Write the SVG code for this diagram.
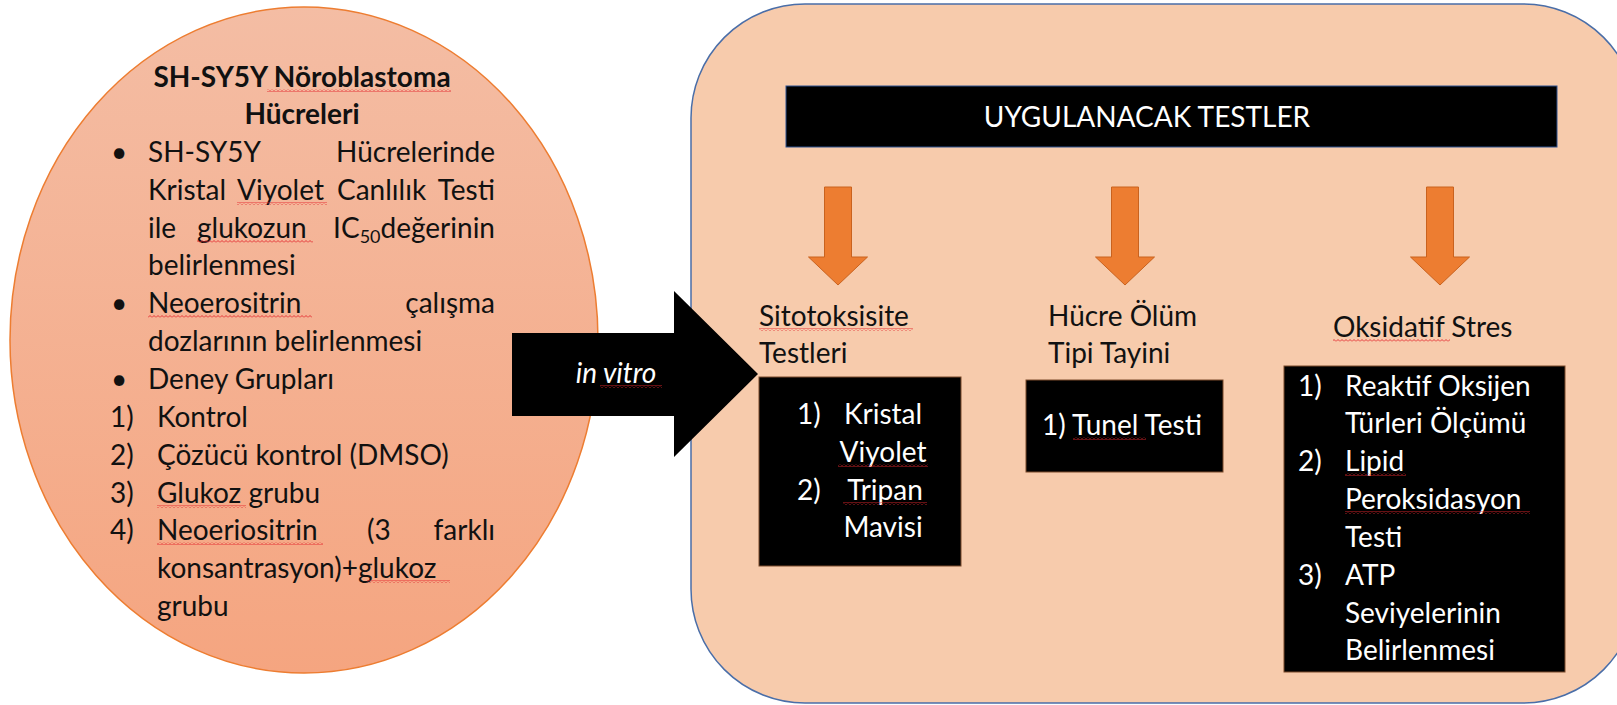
<svg xmlns="http://www.w3.org/2000/svg" width="1617" height="705" viewBox="0 0 1617 705">
<defs>
<linearGradient id="ellGrad" x1="0" y1="0" x2="0" y2="1">
<stop offset="0" stop-color="#F4BDA4"/>
<stop offset="1" stop-color="#F5A580"/>
</linearGradient>
<pattern id="sq" width="4" height="3" patternUnits="userSpaceOnUse">
<path d="M0 2.5 L2 0.5 L4 2.5" fill="none" stroke="#E3262B" stroke-width="0.9"/>
</pattern>
<path id="downArrow" d="M-13.5 0 H13.5 V70 H29.5 L0 98 L-29.5 70 H-13.5 Z"/>
</defs>
<style>
.t{font-family:Lato,"Open Sans","Liberation Sans",sans-serif;font-size:28px;fill:#111;}
.b{font-weight:bold;}
.w{fill:#fff;}
.c{text-anchor:middle;}
.e{text-anchor:end;}
.sq{fill:url(#sq);}
.box{fill:#000;stroke:#7a4a2a;stroke-width:1;}
.oarr{fill:#ED7D31;stroke:#C9621E;stroke-width:1;}
</style>
<rect width="1617" height="705" fill="#fff"/>

<g id="cell-ellipse">
<ellipse cx="304" cy="340" rx="294" ry="333" fill="url(#ellGrad)" stroke="#ED7D31" stroke-width="1.5"/>
</g>

<g id="tests-panel">
<rect x="691" y="4" width="946" height="699" rx="114" ry="114" fill="#F7CBAC" stroke="#4A6EA8" stroke-width="1.5"/>
</g>

<g id="connectors">
<polygon points="512,333 674,333 674,291 758,374 674,457 674,416 512,416" fill="#000"/>
<use href="#downArrow" x="838" y="187" class="oarr"/>
<use href="#downArrow" x="1125" y="187" class="oarr"/>
<use href="#downArrow" x="1440" y="187" class="oarr"/>
<text class="t w c" x="616" y="383" font-style="italic">in vitro</text>
<rect class="sq" x="600" y="385" width="62" height="3"/>
</g>

<g id="cell-text">
<text class="t b c" x="302" y="87">SH-SY5Y Nöroblastoma</text>
<rect class="sq" x="267" y="89" width="184" height="3"/>
<text class="t b c" x="302" y="124">Hücreleri</text>
<text class="t" x="111" y="162">•</text>
<text class="t" x="148" y="162">SH-SY5Y</text>
<text class="t e" x="495" y="162">Hücrelerinde</text>
<text class="t" x="148" y="200">Kristal</text>
<text class="t" x="237" y="200">Viyolet</text>
<text class="t" x="337" y="200">Canlılık</text>
<text class="t e" x="495" y="200">Testi</text>
<rect class="sq" x="237" y="202" width="90" height="3"/>
<text class="t" x="148" y="238">ile</text>
<text class="t" x="197" y="238">glukozun</text>
<text class="t e" x="495" y="238">IC<tspan font-size="18" dy="5">50</tspan><tspan dy="-5">değerinin</tspan></text>
<rect class="sq" x="197" y="240" width="116" height="3"/>
<text class="t" x="148" y="275">belirlenmesi</text>
<text class="t" x="111" y="313">•</text>
<text class="t" x="148" y="313">Neoerositrin</text>
<text class="t e" x="495" y="313">çalışma</text>
<rect class="sq" x="148" y="315" width="164" height="3"/>
<text class="t" x="148" y="351">dozlarının belirlenmesi</text>
<text class="t" x="111" y="389">•</text>
<text class="t" x="148" y="389">Deney Grupları</text>
<text class="t" x="110" y="427">1)</text>
<text class="t" x="157" y="427">Kontrol</text>
<text class="t" x="110" y="465">2)</text>
<text class="t" x="157" y="465">Çözücü kontrol (DMSO)</text>
<text class="t" x="110" y="503">3)</text>
<text class="t" x="157" y="503">Glukoz grubu</text>
<rect class="sq" x="157" y="505" width="89" height="3"/>
<text class="t" x="110" y="540">4)</text>
<text class="t" x="157" y="540">Neoeriositrin</text>
<text class="t" x="367" y="540">(3</text>
<text class="t e" x="495" y="540">farklı</text>
<rect class="sq" x="157" y="542" width="166" height="3"/>
<text class="t" x="157" y="578">konsantrasyon)+glukoz</text>
<rect class="sq" x="367" y="580" width="83" height="3"/>
<text class="t" x="157" y="616">grubu</text>
</g>

<g id="header">
<rect x="786" y="86" width="771" height="61" fill="#000" stroke="#2F528F" stroke-width="1"/>
<text class="t w c" x="1147" y="127" font-size="27">UYGULANACAK TESTLER</text>
</g>

<g id="cytotoxicity">
<text class="t" x="759" y="326">Sitotoksisite</text>
<rect class="sq" x="759" y="328" width="154" height="3"/>
<text class="t" x="759" y="363">Testleri</text>
<rect class="box" x="759" y="377" width="202" height="189"/>
<text class="t w" x="797" y="424">1)</text>
<text class="t w c" x="883" y="424">Kristal</text>
<text class="t w c" x="883" y="462">Viyolet</text>
<rect class="sq" x="838" y="464" width="90" height="3"/>
<text class="t w" x="797" y="500">2)</text>
<text class="t w c" x="885" y="500">Tripan</text>
<rect class="sq" x="843" y="502" width="84" height="3"/>
<text class="t w c" x="883" y="537">Mavisi</text>
</g>

<g id="cell-death">
<text class="t" x="1048" y="326">Hücre Ölüm</text>
<text class="t" x="1048" y="363">Tipi Tayini</text>
<rect class="box" x="1026" y="380" width="197" height="92"/>
<text class="t w" x="1042" y="435">1) Tunel Testi</text>
<rect class="sq" x="1073" y="437" width="73" height="3"/>
</g>

<g id="oxidative-stress">
<text class="t" x="1333" y="337">Oksidatif Stres</text>
<rect class="sq" x="1333" y="339" width="117" height="3"/>
<rect class="box" x="1284" y="366" width="281" height="306"/>
<text class="t w" x="1298" y="396">1)</text>
<text class="t w" x="1345" y="396">Reaktif Oksijen</text>
<text class="t w" x="1345" y="433">Türleri Ölçümü</text>
<text class="t w" x="1298" y="471">2)</text>
<text class="t w" x="1345" y="471">Lipid</text>
<rect class="sq" x="1345" y="473" width="61" height="3"/>
<text class="t w" x="1345" y="509">Peroksidasyon</text>
<rect class="sq" x="1345" y="511" width="185" height="3"/>
<text class="t w" x="1345" y="547">Testi</text>
<text class="t w" x="1298" y="585">3)</text>
<text class="t w" x="1345" y="585">ATP</text>
<text class="t w" x="1345" y="623">Seviyelerinin</text>
<text class="t w" x="1345" y="660">Belirlenmesi</text>
</g>
</svg>
